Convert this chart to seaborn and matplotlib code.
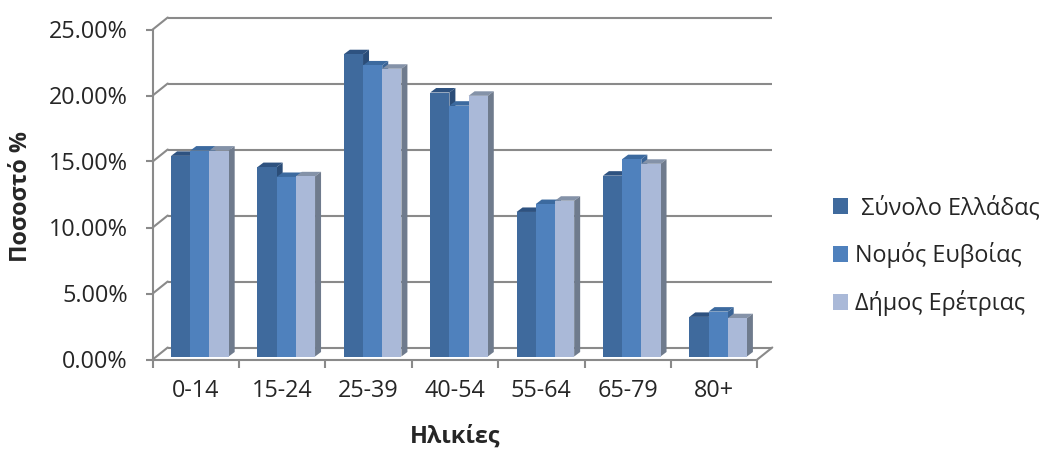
import matplotlib
matplotlib.use("Agg")
import matplotlib.pyplot as plt
import numpy as np
import pandas as pd
import seaborn as sns
from matplotlib.patches import Polygon, Patch
from matplotlib.lines import Line2D

# ---- data -------------------------------------------------------------
age_groups = ["0-14", "15-24", "25-39", "40-54", "55-64", "65-79", "80+"]
series_names = [" Σύνολο Ελλάδας", "Νομός Ευβοίας", "Δήμος Ερέτριας"]
greece = [15.2, 14.35, 22.9, 20.0, 10.95, 13.7, 3.0]
evia = [15.6, 13.6, 22.05, 19.0, 11.55, 14.95, 3.4]
eretria = [15.6, 13.65, 21.8, 19.75, 11.8, 14.6, 2.9]
y_ticks = [0, 5, 10, 15, 20, 25]

# ---- style ------------------------------------------------------------
front_colors = ["#3F6A9D", "#4F81BD", "#AAB9D8"]
top_colors = ["#2E5280", "#3C6A9F", "#8492A8"]
side_colors = ["#2B4D78", "#3A6496", "#6F7B8D"]
line_color = "#8A8A8A"
line_w = 1.5

sns.set_style("white")
plt.rcParams["font.family"] = ["Open Sans", "DejaVu Sans"]
FS = 16.8

df = pd.DataFrame({
    "age": np.tile(age_groups, 3),
    "value": np.concatenate([greece, evia, eretria]),
    "series": np.repeat(series_names, len(age_groups)),
})

W, H = 1040, 450
fig = plt.figure(figsize=(W / 100, H / 100), dpi=100)

# front plane geometry (pixels from top-left)
FX0, FX1 = 152.7, 757.3
F0 = 359.5
PX_PER = 13.2
YMAX = 25


def rect(dx, dy):
    return [(FX0 + dx) / W, (H - (F0 + dy)) / H,
            (FX1 - FX0) / W, YMAX * PX_PER / H]


BACK = (15, -12)
BARS = (4, -3)
ax_back = fig.add_axes(rect(*BACK))
ax_bars = fig.add_axes(rect(*BARS))
ax_front = fig.add_axes(rect(0, 0))

for a in (ax_back, ax_bars, ax_front):
    a.set_xlim(-0.5, len(age_groups) - 0.5)
    a.set_ylim(0, YMAX)
    a.patch.set_visible(False)

# back wall gridlines
ax_back.hlines(y_ticks, -0.5, len(age_groups) - 0.5, color=line_color,
               lw=line_w, clip_on=False)
ax_back.axis("off")

# bars
sns.barplot(data=df, x="age", y="value", hue="series", order=age_groups,
            hue_order=series_names, palette=front_colors, width=2 / 3,
            saturation=1, errorbar=None, legend=False, ax=ax_bars,
            edgecolor="none", linewidth=0)
ax_bars.set_xlim(-0.5, len(age_groups) - 0.5)
ax_bars.set_ylim(0, YMAX)
ax_bars.axis("off")

# depth faces for each column
px_x = (FX1 - FX0) / len(age_groups)
ddx = 6 / px_x
ddy = 4.5 / PX_PER
bars = []
for i, cont in enumerate(ax_bars.containers):
    for b in cont:
        bars.append((b.get_x(), i, b))
bars.sort(key=lambda t: t[0])
for k, (_, i, b) in enumerate(bars):
    x0, w, h = b.get_x(), b.get_width(), b.get_height()
    z = 3 + 0.02 * k
    b.set_zorder(z + 0.01)
    top = Polygon([(x0, h), (x0 + w, h), (x0 + w + ddx, h + ddy),
                   (x0 + ddx, h + ddy)], closed=True, facecolor=top_colors[i],
                  edgecolor="none", zorder=z, clip_on=False)
    side = Polygon([(x0 + w, 0), (x0 + w + ddx, ddy), (x0 + w + ddx, h + ddy),
                    (x0 + w, h)], closed=True, facecolor=side_colors[i],
                   edgecolor="none", zorder=z, clip_on=False)
    ax_bars.add_patch(top)
    ax_bars.add_patch(side)

# front axes with ticks and labels
for s in ("top", "right"):
    ax_front.spines[s].set_visible(False)
for s in ("left", "bottom"):
    ax_front.spines[s].set_color(line_color)
    ax_front.spines[s].set_linewidth(line_w)
ax_front.set_yticks(y_ticks)
ax_front.set_yticklabels([f"{v:.2f}%" for v in y_ticks], fontsize=FS)
ax_front.tick_params(axis="y", direction="out", length=5, width=line_w,
                     color=line_color, pad=13, left=True)
ax_front.set_xticks(np.arange(-0.5, len(age_groups), 1.0))
ax_front.set_xticklabels([])
ax_front.set_xticks(np.arange(len(age_groups)), minor=True)
ax_front.set_xticklabels(age_groups, minor=True, fontsize=FS)
ax_front.tick_params(axis="x", which="major", direction="out", length=6,
                     width=line_w, color=line_color, bottom=True)
ax_front.tick_params(axis="x", which="minor", length=0, pad=14)

# connectors between front axis and back wall
inv = fig.transFigure.inverted()
for v in y_ticks:
    p1 = inv.transform(ax_front.transData.transform((-0.5, v)))
    p2 = inv.transform(ax_back.transData.transform((-0.5, v)))
    fig.add_artist(Line2D([p1[0], p2[0]], [p1[1], p2[1]],
                          transform=fig.transFigure, color=line_color,
                          lw=line_w, solid_capstyle="round"))
p1 = inv.transform(ax_front.transData.transform((len(age_groups) - 0.5, 0)))
p2 = inv.transform(ax_back.transData.transform((len(age_groups) - 0.5, 0)))
fig.add_artist(Line2D([p1[0], p2[0]], [p1[1], p2[1]], transform=fig.transFigure,
                      color=line_color, lw=line_w, solid_capstyle="round"))

# axis titles
fig.text(21 / W, 1 - 197 / H, "Ποσοστό %", rotation=90, ha="center",
         va="center", fontsize=FS, fontweight="bold")
fig.text(455 / W, 1 - 437 / H, "Ηλικίες", ha="center", va="center",
         fontsize=FS, fontweight="bold")

# legend
handles = [Patch(facecolor=c, edgecolor="none") for c in front_colors]
fig.legend(handles, series_names, loc="center left",
           bbox_to_anchor=(833 / W, 1 - 256 / H), frameon=False, fontsize=FS,
           handlelength=0.65, handleheight=0.65, handletextpad=0.28,
           labelspacing=0.95, borderpad=0, borderaxespad=0)

fig.savefig("out.png", dpi=100)
